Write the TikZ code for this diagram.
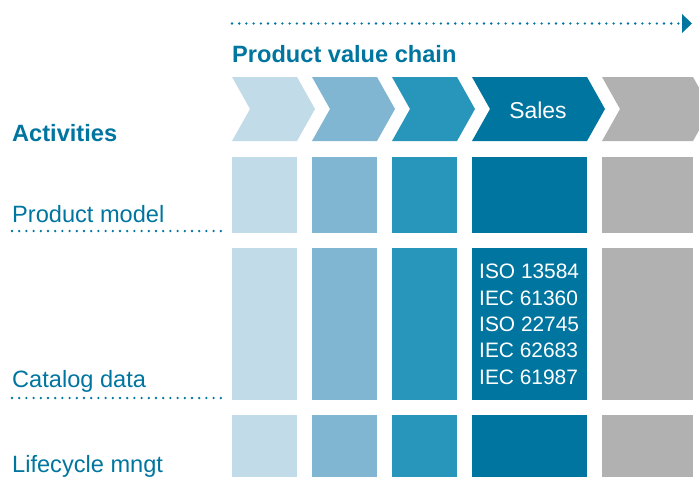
\documentclass[tikz,border=0pt]{standalone}
\usepackage{fontspec}
\setmainfont{Liberation Sans}
\usetikzlibrary{arrows.meta, positioning, calc}
\definecolor{chainA}{HTML}{C2DBE9}
\definecolor{chainB}{HTML}{80B6D2}
\definecolor{chainC}{HTML}{2895BA}
\definecolor{chainD}{HTML}{00759F}
\definecolor{chainE}{HTML}{B1B1B1}
\tikzset{
    rowlabel/.style={anchor=base west, inner sep=0pt, text=chainD, font=\fontsize{23.6}{28}\selectfont},
    headlabel/.style={rowlabel, font=\fontsize{23.6}{28}\selectfont\bfseries},
    dotline/.style={chainD, line width=2.6pt, dash pattern=on 0pt off 7.2pt, line cap=round},
}
\begin{document}
\begin{tikzpicture}[x=1pt, y=-1pt]
    \def \d {18}
    \useasboundingbox (0,0) rectangle (699,477);
    % chevrons and the three rows of cells
    \foreach \l/\r/\c in {232/297/chainA, 312/377/chainB, 392/457/chainC, 472/587/chainD, 602/693/chainE}{
        \fill[\c] (\l,77) -- (\r,77) -- (\r+\d,109) -- (\r,141) -- (\l,141) -- (\l+\d,109) -- cycle;
        \fill[\c] (\l,157) rectangle (\r,233);
        \fill[\c] (\l,248) rectangle (\r,400);
        \fill[\c] (\l,415) rectangle (\r,477);
    }
    % top arrow
    \coordinate (t1) at (232,23.5);
    \coordinate (t2) at (692,23.5);
    \draw[dotline] (t1) -- ($(t2)+(-10,0)$);
    \fill[chainD] (t2) -- (682,14) -- (682,33) -- cycle;
    \node[headlabel] (title) at (232,62) {Product value chain};
    \node[inner sep=0pt, anchor=base, text=white, font=\fontsize{22.9}{28}\selectfont] (sales) at (538,118) {Sales};
    % rows
    \node[headlabel] (act) at (12,141) {Activities};
    \node[rowlabel] (pm) at (12,222) {Product model};
    \node[rowlabel] (cd) at (12,387) {Catalog data};
    \node[rowlabel] (lm) at (12,472) {Lifecycle mngt};
    \coordinate (p1) at (12,231);
    \coordinate (p2) at (221,231);
    \coordinate (q1) at (12,398);
    \coordinate (q2) at (221,398);
    \draw[dotline] (p1) -- (p2);
    \draw[dotline] (q1) -- (q2);
    \node[inner sep=0pt, anchor=base west, align=left, text=white, font=\fontsize{20.9}{26.3}\selectfont] (norms) at (479,384)
        {ISO 13584\\IEC 61360\\ISO 22745\\IEC 62683\\IEC 61987};
\end{tikzpicture}
\end{document}
